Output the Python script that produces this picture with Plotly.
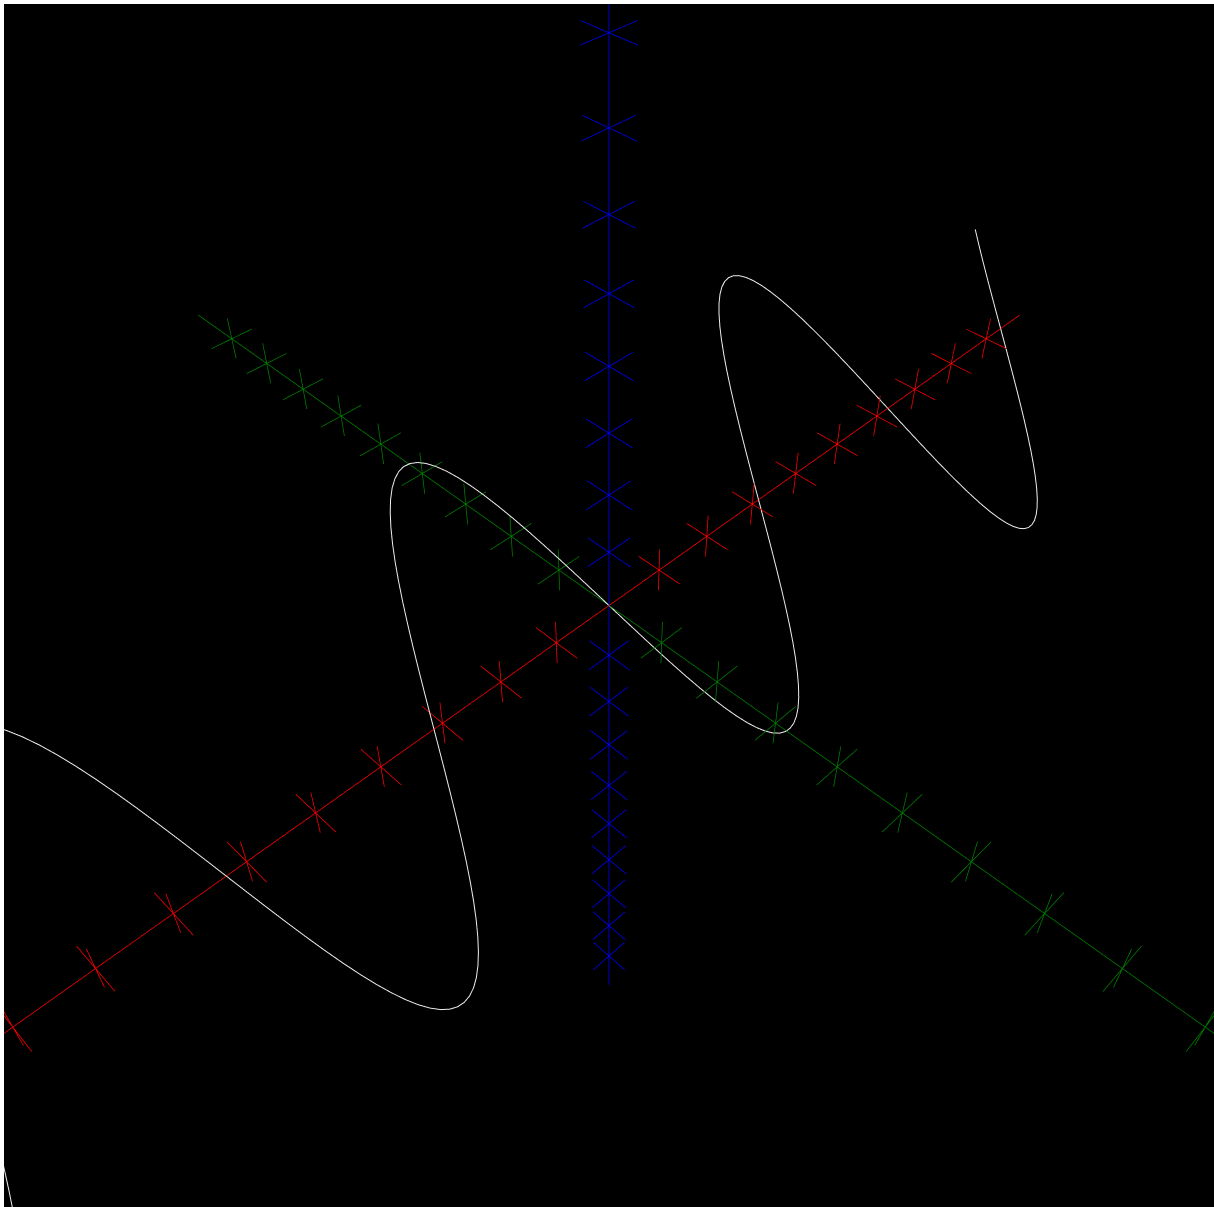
import plotly.graph_objects as go

# Axis layout: each axis runs from -AXIS_END to +AXIS_END with cross ticks at integers
AXIS_END = 10
TICK_VALUES = [-9, -8, -7, -6, -5, -4, -3, -2, -1, 1, 2, 3, 4, 5, 6, 7, 8, 9]
TICK_HALF = 0.4

# Sine curve sampled along x (step 0.1, x from -10 to 10), lying in the plane y = -z
CURVE_X = [round(0.1 * i, 1) for i in range(-100, 101)]
CURVE_SIN = [
    0.5440, 0.4575, 0.3665, 0.2718, 0.1743, 0.0752, -0.0248, -0.1245, -0.2229, -0.3190,
    -0.4121, -0.5010, -0.5849, -0.6630, -0.7344, -0.7985, -0.8546, -0.9022, -0.9407, -0.9699,
    -0.9894, -0.9989, -0.9985, -0.9882, -0.9679, -0.9380, -0.8987, -0.8504, -0.7937, -0.7290,
    -0.6570, -0.5784, -0.4941, -0.4048, -0.3115, -0.2151, -0.1165, -0.0168, 0.0831, 0.1822,
    0.2794, 0.3739, 0.4646, 0.5507, 0.6313, 0.7055, 0.7728, 0.8323, 0.8835, 0.9258,
    0.9589, 0.9825, 0.9962, 0.9999, 0.9937, 0.9775, 0.9516, 0.9162, 0.8716, 0.8183,
    0.7568, 0.6878, 0.6119, 0.5298, 0.4425, 0.3508, 0.2555, 0.1577, 0.0584, -0.0416,
    -0.1411, -0.2392, -0.3350, -0.4274, -0.5155, -0.5985, -0.6755, -0.7457, -0.8085, -0.8632,
    -0.9093, -0.9463, -0.9738, -0.9917, -0.9996, -0.9975, -0.9854, -0.9636, -0.9320, -0.8912,
    -0.8415, -0.7833, -0.7174, -0.6442, -0.5646, -0.4794, -0.3894, -0.2955, -0.1987, -0.0998,
    0.0000,
    0.0998, 0.1987, 0.2955, 0.3894, 0.4794, 0.5646, 0.6442, 0.7174, 0.7833, 0.8415,
    0.8912, 0.9320, 0.9636, 0.9854, 0.9975, 0.9996, 0.9917, 0.9738, 0.9463, 0.9093,
    0.8632, 0.8085, 0.7457, 0.6755, 0.5985, 0.5155, 0.4274, 0.3350, 0.2392, 0.1411,
    0.0416, -0.0584, -0.1577, -0.2555, -0.3508, -0.4425, -0.5298, -0.6119, -0.6878, -0.7568,
    -0.8183, -0.8716, -0.9162, -0.9516, -0.9775, -0.9937, -0.9999, -0.9962, -0.9825, -0.9589,
    -0.9258, -0.8835, -0.8323, -0.7728, -0.7055, -0.6313, -0.5507, -0.4646, -0.3739, -0.2794,
    -0.1822, -0.0831, 0.0168, 0.1165, 0.2151, 0.3115, 0.4048, 0.4941, 0.5784, 0.6570,
    0.7290, 0.7937, 0.8504, 0.8987, 0.9380, 0.9679, 0.9882, 0.9985, 0.9989, 0.9894,
    0.9699, 0.9407, 0.9022, 0.8546, 0.7985, 0.7344, 0.6630, 0.5849, 0.5010, 0.4121,
    0.3190, 0.2229, 0.1245, 0.0248, -0.0752, -0.1743, -0.2718, -0.3665, -0.4575, -0.5440,
]
CURVE_AMP = 2.15

AXIS_COLORS = {"x": "#ff0000", "y": "#008000", "z": "#0000ff"}
CURVE_COLOR = "#eeeeee"

SCENE_HALF = 12
EYE_DIST = 20.0 / (2 * SCENE_HALF)


def axis_trace(idx, color):
    """Axis line plus an X-shaped cross tick at every tick value."""
    pts = [[], [], []]

    def add(a, b):
        for k in range(3):
            pts[k] += [a[k], b[k], None]

    start = [0.0, 0.0, 0.0]
    end = [0.0, 0.0, 0.0]
    start[idx] = -AXIS_END
    end[idx] = AXIS_END
    add(start, end)
    others = [k for k in range(3) if k != idx]
    for t in TICK_VALUES:
        for o in others:
            a = [0.0, 0.0, 0.0]
            b = [0.0, 0.0, 0.0]
            a[idx] = b[idx] = t
            a[o] = -TICK_HALF
            b[o] = TICK_HALF
            add(a, b)
    return go.Scatter3d(
        x=pts[0], y=pts[1], z=pts[2], mode="lines",
        line=dict(color=color, width=1.5),
        connectgaps=False, hoverinfo="skip", showlegend=False,
    )


fig = go.Figure()
fig.add_trace(axis_trace(0, AXIS_COLORS["x"]))
fig.add_trace(axis_trace(1, AXIS_COLORS["y"]))
fig.add_trace(axis_trace(2, AXIS_COLORS["z"]))

curve_y = [-CURVE_AMP * s for s in CURVE_SIN]
curve_z = [CURVE_AMP * s for s in CURVE_SIN]
fig.add_trace(go.Scatter3d(
    x=CURVE_X, y=curve_y, z=curve_z, mode="lines",
    line=dict(color=CURVE_COLOR, width=2),
    hoverinfo="skip", showlegend=False,
))

hidden_axis = dict(visible=False, range=[-SCENE_HALF, SCENE_HALF], showbackground=False,
                   showgrid=False, zeroline=False, showspikes=False)

fig.update_layout(
    width=1214, height=1207,
    margin=dict(l=4, r=0, t=4, b=0, pad=0),
    paper_bgcolor="white",
    showlegend=False,
    scene=dict(
        bgcolor="black",
        xaxis=hidden_axis, yaxis=hidden_axis, zaxis=hidden_axis,
        aspectmode="manual", aspectratio=dict(x=1, y=1, z=1),
        camera=dict(
            eye=dict(x=EYE_DIST * 0.5, y=EYE_DIST * 0.5, z=EYE_DIST * 0.70711),
            center=dict(x=0, y=0, z=0),
            up=dict(x=0, y=0, z=1),
            projection=dict(type="perspective"),
        ),
        domain=dict(x=[0, 1], y=[0, 1]),
    ),
)

fig.write_html("out.html", config={"displayModeBar": False})
